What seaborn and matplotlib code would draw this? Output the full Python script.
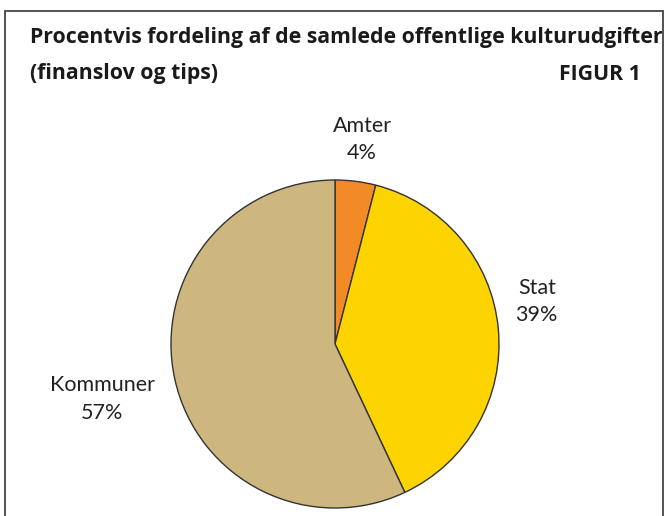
import matplotlib
matplotlib.use("Agg")
import matplotlib.pyplot as plt
import seaborn as sns
from matplotlib.patches import Rectangle

categories = ["Amter", "Stat", "Kommuner"]
values = [4, 39, 57]
labels = ["Amter\n4%", "Stat\n39%", "Kommuner\n57%"]
colors = ["#F28A25", "#FDD300", "#CDB77F"]
title1 = "Procentvis fordeling af de samlede offentlige kulturudgifter"
title2 = "(finanslov og tips)"
figlabel = "FIGUR 1"

sns.set_theme(style="white")
plt.rcParams['font.family'] = ['Lato', 'DejaVu Sans']

W, H = 665, 516
fig = plt.figure(figsize=(W / 100, H / 100), dpi=100)

# border frame
fig.patches.append(Rectangle((5 / W, -0.05), (663 - 5) / W, (H - 11) / H + 0.05,
                             transform=fig.transFigure, fill=False,
                             edgecolor="#444444", linewidth=1.3))

cx, cy, r = 335, 344, 164
ax = fig.add_axes([(cx - r) / W, (H - cy - r) / H, 2 * r / W, 2 * r / H])
ax.pie(values, colors=colors, startangle=90, counterclock=False,
       wedgeprops=dict(edgecolor="#333333", linewidth=1.0))
ax.set_xlim(-1, 1)
ax.set_ylim(-1, 1)
ax.set_aspect("equal")
ax.axis("off")

label_pos = [(0.165, 1.245), (1.23, 0.26), (-1.42, -0.335)]
for lab, (x, y) in zip(labels, label_pos):
    ax.text(x, y, lab, ha="center", va="center", fontsize=15.5,
            color="#222222", linespacing=1.45, clip_on=False)

tkw = dict(fontsize=15.3, fontweight="bold", color="#1a1a1a",
           family=["Open Sans", "DejaVu Sans"])
fig.text(30 / W, 1 - 38 / H, title1, ha="left", va="center", **tkw)
fig.text(30 / W, 1 - 74 / H, title2, ha="left", va="center", **tkw)
fig.text(641 / W, 1 - 74 / H, figlabel, ha="right", va="center", **tkw)

fig.savefig("out.png", dpi=100)
